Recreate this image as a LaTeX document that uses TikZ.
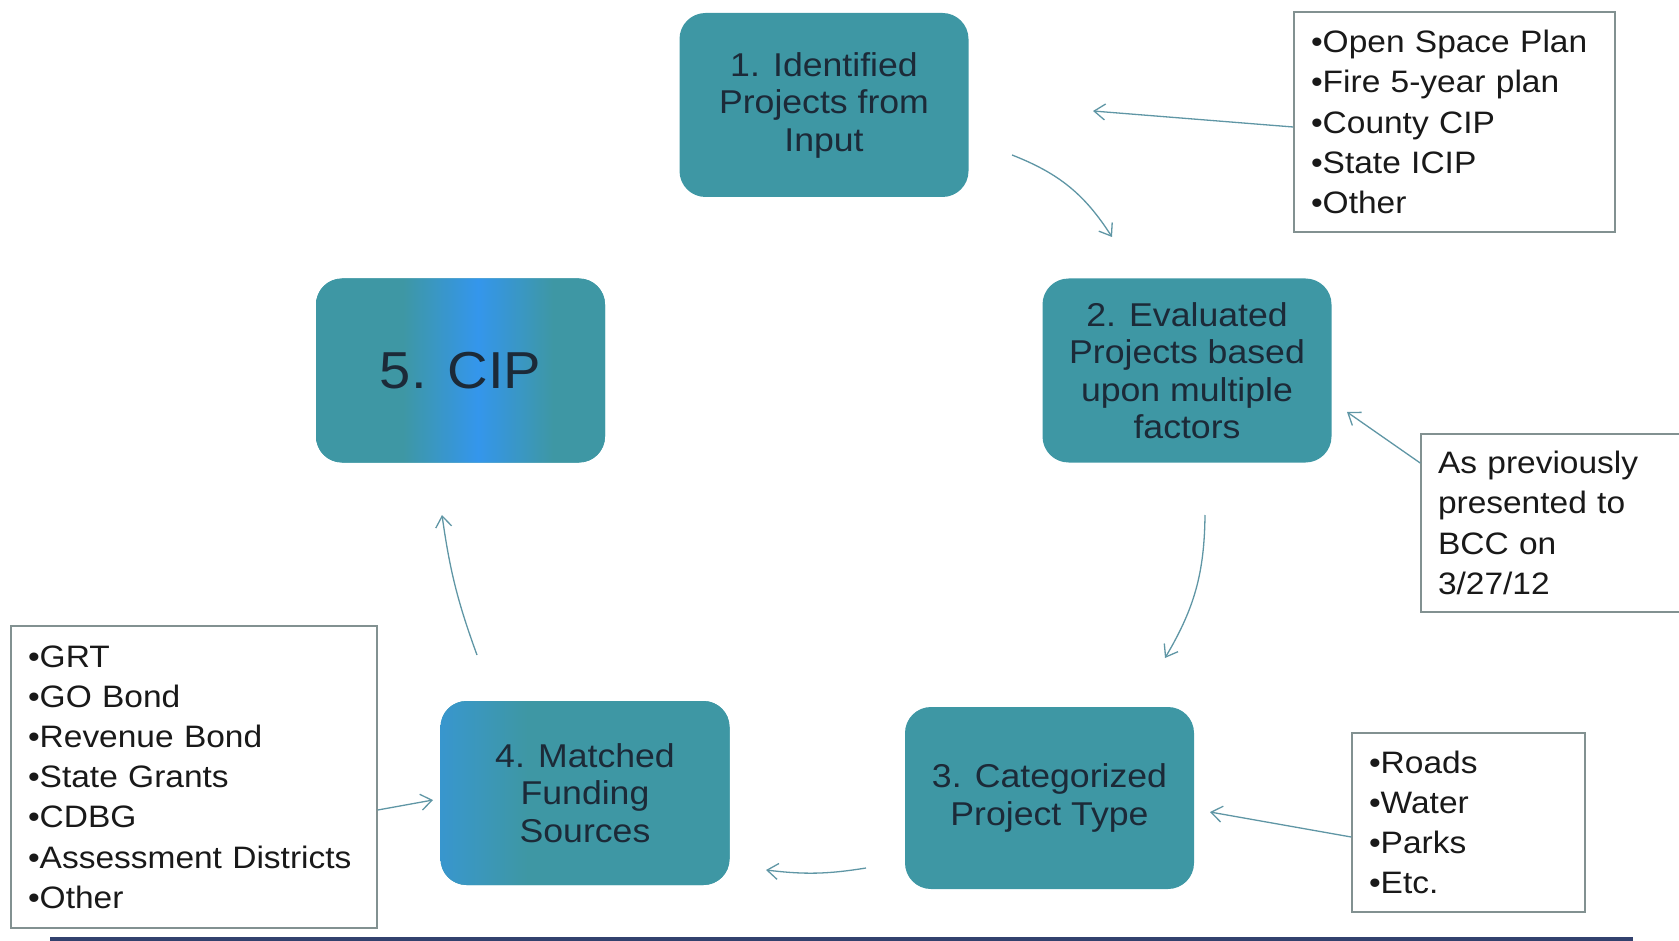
\documentclass[tikz,border=0pt]{standalone}
\usepackage{fontspec}
\setmainfont[FakeStretch=1.08]{Liberation Sans}
\usetikzlibrary{arrows.meta}
\definecolor{tealbox}{RGB}{62,151,164}
\definecolor{bluebox}{RGB}{52,150,236}
\definecolor{nodetext}{RGB}{28,42,56}
\definecolor{arrowc}{RGB}{95,150,165}
\definecolor{boxline}{RGB}{130,145,145}
\definecolor{baseblue}{RGB}{50,65,110}
\pgfdeclarehorizontalshading{cipshade}{100bp}{color(0bp)=(tealbox); color(40bp)=(tealbox); color(53bp)=(bluebox); color(66bp)=(tealbox); color(100bp)=(tealbox)}
\pgfdeclarehorizontalshading{fundshade}{100bp}{color(0bp)=(bluebox); color(14bp)=(bluebox); color(40bp)=(tealbox); color(100bp)=(tealbox)}
\begin{document}
\begin{tikzpicture}[x=1pt,y=-1pt,
  stagebox/.style={fill=tealbox, rounded corners=26pt, minimum width=289pt, minimum height=184pt,
    inner sep=0pt, align=center, text=nodetext, font=\fontsize{33}{37.5}\selectfont},
  infobox/.style={draw=boxline, line width=1.6pt, fill=white, align=left, text=black!90,
    font=\fontsize{31}{40.2}\selectfont, inner xsep=17pt, inner ysep=0pt},
  flow/.style={draw=arrowc, line width=1.3pt, -{Straight Barb[length=11pt,width=16pt,line width=1.3pt]}}]
\useasboundingbox (0,0) rectangle (1679,941);

% stages
\node[stagebox] (n1) at (824,105) {1. Identified\\Projects from\\Input};
\node[stagebox] (n2) at (1187,370.5) {2. Evaluated\\Projects based\\upon multiple\\factors};
\node[stagebox, minimum height=182pt] (n3) at (1049.5,798) {3. Categorized\\Project Type};
\node[stagebox, shading=fundshade] (n4) at (585,793) {4. Matched\\Funding\\Sources};
\node[stagebox, shading=cipshade, font=\fontsize{52}{60}\selectfont] (n5) at (460.5,370.5) {5. CIP};

% info boxes
\node[infobox, text width=287pt, minimum height=220pt] (src1) at (1454.5,122)
  {•Open Space Plan\\•Fire 5-year plan\\•County CIP\\•State ICIP\\•Other};
\node[infobox, text width=236pt, minimum height=178pt] (bcc) at (1556,523)
  {As previously\\presented to\\BCC on\\3/27/12};
\node[infobox, text width=199pt, minimum height=179pt] (roads) at (1468.5,822.5)
  {•Roads\\•Water\\•Parks\\•Etc.};
\node[infobox, text width=332pt, minimum height=302pt] (grt) at (194,777)
  {•GRT\\•GO Bond\\•Revenue Bond\\•State Grants\\•CDBG\\•Assessment Districts\\•Other};

% free arrow ends
\coordinate (t1) at (1093,111);
\coordinate (c12a) at (1012,155);
\coordinate (c12b) at (1112,237);
\coordinate (tb) at (1347,412);
\coordinate (c23a) at (1205,515);
\coordinate (c23b) at (1165,658);
\coordinate (tr) at (1210,812);
\coordinate (c34a) at (866,868);
\coordinate (c34b) at (766,870);
\coordinate (tg) at (433,800);
\coordinate (c45a) at (477,655);
\coordinate (c45b) at (442,515);

% connectors
\draw[flow] ([yshift=-5pt]src1.west) -- (t1);
\draw[flow] (c12a) to[bend left=18] (c12b);
\draw[flow] ([yshift=60pt]bcc.west) -- (tb);
\draw[flow] (c23a) to[bend left=15] (c23b);
\draw[flow] ([yshift=-14.5pt]roads.west) -- (tr);
\draw[flow] (c34a) to[bend left=8] (c34b);
\draw[flow] ([yshift=-33pt]grt.east) -- (tg);
\draw[flow] (c45a) to[bend left=6] (c45b);

% bottom rule
\fill[baseblue] (50,937) rectangle (1633,941);
\end{tikzpicture}
\end{document}
